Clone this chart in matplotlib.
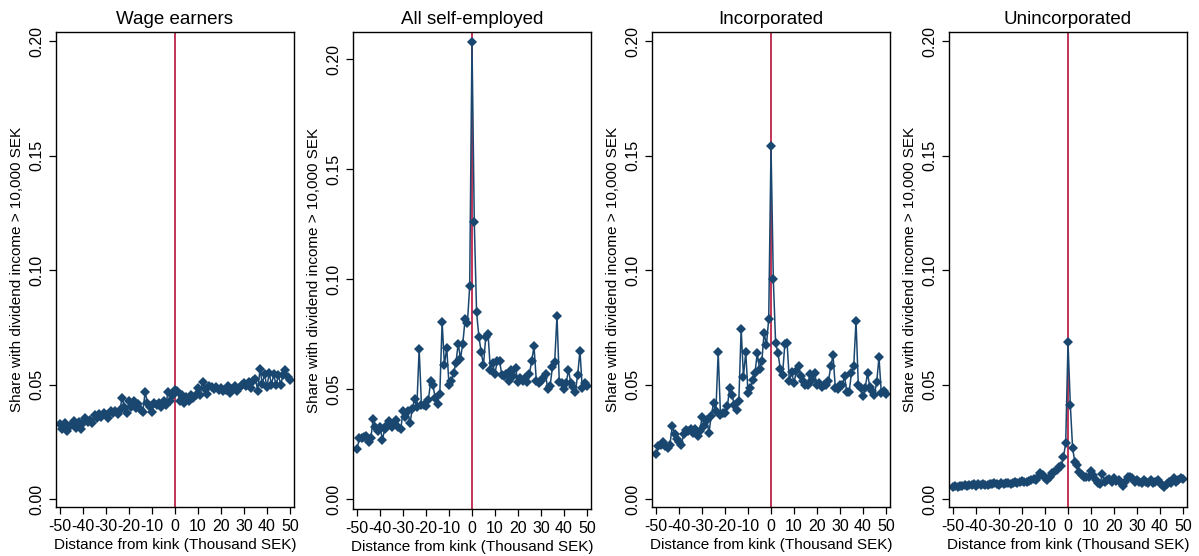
import numpy as np
import matplotlib
matplotlib.use("Agg")
import matplotlib.pyplot as plt

plt.rcParams["font.family"] = ["Liberation Sans", "DejaVu Sans"]
plt.rcParams["axes.unicode_minus"] = False

distance = list(range(-50, 51))

wage_earners = [
    0.0326, 0.0306, 0.0330, 0.0297, 0.0316, 0.0326, 0.0340, 0.0310, 0.0338, 0.0306,
    0.0330, 0.0353, 0.0338, 0.0345, 0.0330, 0.0368, 0.0353, 0.0370, 0.0360, 0.0375,
    0.0368, 0.0356, 0.0385, 0.0375, 0.0385, 0.0370, 0.0390, 0.0441, 0.0404, 0.0375,
    0.0426, 0.0404, 0.0426, 0.0397, 0.0415, 0.0390, 0.0380, 0.0468, 0.0419, 0.0404,
    0.0380, 0.0419, 0.0409, 0.0419, 0.0404, 0.0426, 0.0412, 0.0468, 0.0430, 0.0453,
    0.0478,
    0.0470, 0.0430, 0.0456, 0.0419, 0.0444, 0.0430, 0.0456, 0.0441, 0.0453, 0.0485,
    0.0456, 0.0512, 0.0482, 0.0459, 0.0493, 0.0488, 0.0482, 0.0488, 0.0478, 0.0485,
    0.0470, 0.0478, 0.0493, 0.0463, 0.0482, 0.0493, 0.0474, 0.0485, 0.0500, 0.0507,
    0.0493, 0.0512, 0.0485, 0.0515, 0.0526, 0.0474, 0.0566, 0.0503, 0.0547, 0.0488,
    0.0551, 0.0500, 0.0544, 0.0497, 0.0541, 0.0500, 0.0541, 0.0562, 0.0532, 0.0522,
]

all_self_employed = [
    0.0230, 0.0280, 0.0280, 0.0285, 0.0290, 0.0260, 0.0280, 0.0367, 0.0330, 0.0310,
    0.0330, 0.0270, 0.0320, 0.0336, 0.0355, 0.0330, 0.0345, 0.0360, 0.0330, 0.0320,
    0.0400, 0.0375, 0.0400, 0.0345, 0.0410, 0.0458, 0.0420, 0.0685, 0.0430, 0.0430,
    0.0425, 0.0450, 0.0536, 0.0520, 0.0460, 0.0435, 0.0480, 0.0806, 0.0610, 0.0690,
    0.0520, 0.0540, 0.0574, 0.0620, 0.0708, 0.0640, 0.0708, 0.0818, 0.0800, 0.0968,
    0.2080,
    0.1260, 0.0850, 0.0740, 0.0670, 0.0610, 0.0740, 0.0750, 0.0590, 0.0620, 0.0570,
    0.0630, 0.0630, 0.0565, 0.0560, 0.0570, 0.0540, 0.0590, 0.0560, 0.0595, 0.0535,
    0.0550, 0.0540, 0.0550, 0.0535, 0.0570, 0.0630, 0.0695, 0.0540, 0.0527, 0.0540,
    0.0550, 0.0570, 0.0500, 0.0515, 0.0600, 0.0625, 0.0834, 0.0535, 0.0527, 0.0500,
    0.0527, 0.0590, 0.0527, 0.0510, 0.0490, 0.0565, 0.0676, 0.0505, 0.0530, 0.0515,
]

incorporated = [
    0.0197, 0.0232, 0.0237, 0.0247, 0.0230, 0.0222, 0.0237, 0.0317, 0.0285, 0.0260,
    0.0250, 0.0237, 0.0285, 0.0300, 0.0295, 0.0305, 0.0290, 0.0305, 0.0276, 0.0295,
    0.0358, 0.0317, 0.0346, 0.0290, 0.0364, 0.0420, 0.0383, 0.0642, 0.0368, 0.0376,
    0.0376, 0.0405, 0.0485, 0.0456, 0.0412, 0.0390, 0.0430, 0.0744, 0.0534, 0.0642,
    0.0463, 0.0485, 0.0520, 0.0550, 0.0636, 0.0569, 0.0602, 0.0727, 0.0671, 0.0788,
    0.1540,
    0.0960, 0.0680, 0.0640, 0.0570, 0.0540, 0.0675, 0.0680, 0.0515, 0.0555, 0.0505,
    0.0560, 0.0580, 0.0537, 0.0515, 0.0496, 0.0500, 0.0544, 0.0520, 0.0550, 0.0496,
    0.0507, 0.0490, 0.0496, 0.0500, 0.0515, 0.0580, 0.0627, 0.0485, 0.0480, 0.0500,
    0.0496, 0.0537, 0.0466, 0.0466, 0.0550, 0.0580, 0.0778, 0.0496, 0.0485, 0.0450,
    0.0485, 0.0550, 0.0490, 0.0470, 0.0456, 0.0510, 0.0620, 0.0463, 0.0470, 0.0459,
]

unincorporated = [
    0.0051, 0.0056, 0.0054, 0.0058, 0.0055, 0.0060, 0.0057, 0.0062, 0.0060, 0.0064,
    0.0058, 0.0065, 0.0061, 0.0066, 0.0060, 0.0063, 0.0067, 0.0064, 0.0068, 0.0065,
    0.0063, 0.0070, 0.0066, 0.0069, 0.0072, 0.0067, 0.0071, 0.0075, 0.0070, 0.0074,
    0.0078, 0.0073, 0.0076, 0.0080, 0.0083, 0.0086, 0.0083, 0.0098, 0.0115, 0.0105,
    0.0091, 0.0083, 0.0098, 0.0113, 0.0120, 0.0127, 0.0139, 0.0145, 0.0183, 0.0244,
    0.0684,
    0.0412, 0.0222, 0.0160, 0.0149, 0.0120, 0.0105, 0.0098, 0.0095, 0.0098, 0.0124,
    0.0105, 0.0083, 0.0069, 0.0066, 0.0110, 0.0076, 0.0083, 0.0086, 0.0076, 0.0090,
    0.0080, 0.0083, 0.0072, 0.0057, 0.0076, 0.0095, 0.0098, 0.0090, 0.0076, 0.0083,
    0.0076, 0.0069, 0.0083, 0.0076, 0.0069, 0.0083, 0.0069, 0.0076, 0.0083, 0.0069,
    0.0062, 0.0051, 0.0066, 0.0076, 0.0072, 0.0090, 0.0076, 0.0083, 0.0090, 0.0086,
]

titles = ["Wage earners", "All self-employed", "Incorporated", "Unincorporated"]
series = [wage_earners, all_self_employed, incorporated, unincorporated]
ylims = [(-0.0035, 0.204), (-0.0044, 0.2124), (-0.0035, 0.204), (-0.0035, 0.204)]
lefts = [0.0467, 0.2944, 0.5438, 0.7915]

navy = "#1a476f"
red = "#b8123c"

fig = plt.figure(figsize=(11.99, 5.56), dpi=100)

for i in range(4):
    bottom = 0.0845 if i == 1 else 0.0881
    ax = fig.add_axes([lefts[i], bottom, 0.1985, 0.9424 - bottom])
    ax.axvline(0, color=red, lw=1.2, zorder=1)
    ax.plot(distance, series[i], color=navy, lw=1.1, marker="D", markersize=5.4,
            markeredgewidth=0, zorder=2)
    ax.set_xlim(-51.8, 51.8)
    ax.set_ylim(*ylims[i])
    ax.set_xticks(np.arange(-50, 51, 10))
    ax.set_yticks([0, 0.05, 0.10, 0.15, 0.20])
    ax.set_yticklabels(["0.00", "0.05", "0.10", "0.15", "0.20"], rotation=90, va="center")
    ax.tick_params(labelsize=11.5, length=5, width=0.9, direction="out")
    for s in ax.spines.values():
        s.set_linewidth(1.0)
        s.set_color("black")
    ax.set_title(titles[i], fontsize=13.5, pad=6)
    ax.set_xlabel("Distance from kink (Thousand SEK)", fontsize=11, labelpad=3)
    ax.set_ylabel("Share with dividend income > 10,000 SEK", fontsize=11, labelpad=4)

fig.savefig("out.png", dpi=100)
